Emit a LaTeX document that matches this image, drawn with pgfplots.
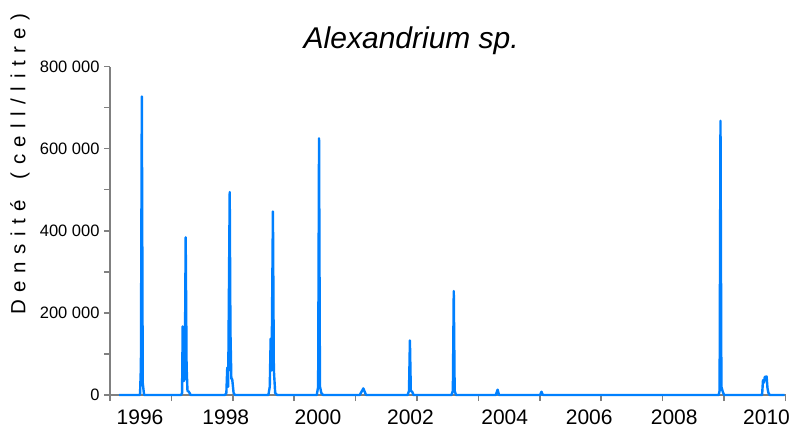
\documentclass[border=0pt]{standalone}
\usepackage{pgfplots}
\pgfplotsset{compat=1.18}
\usepackage{pgfplotstable}
\usepackage{fontspec}
\setmainfont{Liberation Sans}
\definecolor{lineblue}{RGB}{0,128,255}
\definecolor{axgray}{RGB}{128,128,128}
\newcommand\g{\hspace{0.366em}}
\pgfplotstableread{
x y
1995.54 0
1996.00 0
1996.02 70000
1996.04 727000
1996.06 30000
1996.09 0
1996.91 0
1996.93 5000
1996.944 167000
1996.965 34000
1996.99 40000
1997.01 384000
1997.03 70000
1997.05 10000
1997.08 8000
1997.12 0
1997.88 0
1997.91 5000
1997.93 67000
1997.95 20000
1997.984 494000
1998.00 155000
1998.02 40000
1998.04 38000
1998.07 5000
1998.10 0
1998.84 0
1998.87 20000
1998.89 137000
1998.91 60000
1998.94 447000
1998.96 62000
1998.99 5000
1999.03 0
1999.91 0
1999.94 20000
1999.96 625000
1999.98 21000
2000.01 5000
2000.05 0
2000.86 0
2000.92 12000
2000.94 16000
2000.97 8000
2001.00 0
2001.92 0
2001.95 10000
2001.97 133000
2001.99 10000
2002.02 8000
2002.05 0
2002.89 0
2002.92 10000
2002.94 253000
2002.96 10000
2002.99 0
2003.87 0
2003.91 13000
2003.94 0
2004.85 0
2004.88 8000
2004.91 0
2008.80 0
2008.82 10000
2008.84 668000
2008.86 20000
2008.89 8000
2008.92 0
2009.76 0
2009.78 36000
2009.80 30000
2009.82 44000
2009.86 45000
2009.88 16000
2009.90 5000
2009.93 0
2010.26 0
}\alexdata
\begin{document}
\begin{tikzpicture}
\useasboundingbox (-110pt,-37pt) rectangle (685pt,395pt);
\begin{axis}[
  at={(0pt,0pt)}, anchor=south west,
  scale only axis, width=675.5pt, height=328.5pt,
  xmin=1995.336, xmax=2010.278, ymin=0, ymax=800000,
  axis lines*=left,
  axis line style={draw=axgray, line width=2pt},
  every tick/.style={draw=axgray, line width=1.6pt},
  tick align=outside,
  major tick length=6pt, minor tick length=6pt,
  clip=false,
  scaled y ticks=false,
  xtick={1995.336,1996.694,1998.053,1999.411,2000.769,2002.128,2003.486,2004.844,2006.203,2007.561,2008.919,2010.278},
  xticklabels={},
  extra x ticks={1996.000,1997.898,1999.937,2001.983,2004.067,2005.936,2007.816,2009.858},
  extra x tick labels={1996,1998,2000,2002,2004,2006,2008,2010},
  extra x tick style={major tick length=0pt},
  xticklabel style={font=\fontsize{21}{24}\selectfont, inner sep=0pt, anchor=base, yshift=-29pt},
  ytick={0,200000,400000,600000,800000},
  yticklabels={0,200 000,400 000,600 000,800 000},
  minor ytick={100000,300000,500000,700000},
  yticklabel style={font=\fontsize{16.5}{18}\selectfont, xshift=-1pt},
  title={\itshape Alexandrium sp.},
  title style={at={(axis description cs:0.446,1.038)}, anchor=base, font=\fontsize{30}{32}\selectfont},
  ylabel={D\g e\g n\g s\g i\g t\g é\g{} \g(\g c\g e\g l\g l\g/\g l\g i\g t\g r\g e\g)},
  ylabel style={at={(axis description cs:-0.1332,0.703)}, anchor=center, font=\fontsize{20.5}{22}\selectfont},
]
\addplot[color=lineblue, line width=2.4pt, line join=round, mark=none] table[x=x,y=y] {\alexdata};
\end{axis}
\end{tikzpicture}
\end{document}
